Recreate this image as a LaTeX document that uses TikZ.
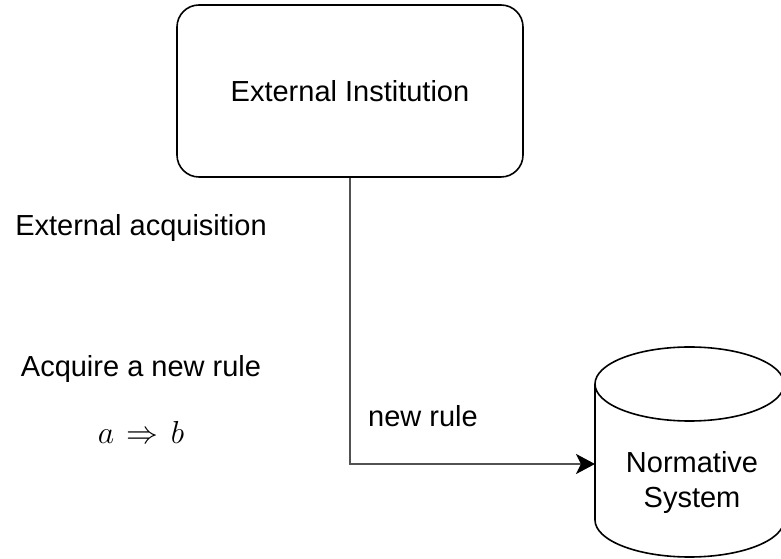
\documentclass[tikz,border=0pt]{standalone}
\usepackage{fontspec}
\setmainfont{Liberation Sans}
\usetikzlibrary{arrows.meta}

\tikzset{
  lbl/.style={font=\fontsize{29}{35}\selectfont, inner sep=0pt},
  instbox/.style={draw=black, line width=1.6pt, rounded corners=22pt,
    minimum width=346pt, minimum height=172pt, lbl},
  dbshape/.style={draw=black, line width=1.6pt, fill=white},
  flow/.style={draw=black!68, line width=2.6pt,
    -{Stealth[length=19pt, width=20pt, inset=5pt, color=black]}},
}

\begin{document}
\begin{tikzpicture}[x=1pt, y=1pt]
  \useasboundingbox (0,0) rectangle (781,559);
  \clip (0,0) rectangle (781,559);

  % institution box
  \node[instbox] (inst) at (350,468) {};
  \node[lbl, anchor=base] (instlbl) at (350,457) {External Institution};

  % side notes
  \node[lbl, anchor=base] (acq) at (141,323) {External acquisition};
  \node[lbl, anchor=base] (rule) at (141,182) {Acquire a new rule};
  \node[inner sep=0pt, anchor=base, scale=1.28] (formula) at (141,115)
    {\fontsize{24.88}{30}\selectfont $a\mskip2mu\Rightarrow\mskip2mu b$};

  % normative system store (cylinder)
  \path[dbshape] (595,175) -- (595,39)
    arc[start angle=180, end angle=360, x radius=94.5pt, y radius=37pt]
    -- (784,175);
  \path[dbshape] (689.5,175) ellipse[x radius=94.5pt, y radius=37pt];
  \node[lbl, align=center] (ns) at (692,76) {Normative\\System};
  \coordinate (nsin) at (595,95);

  % connector
  \draw[flow] (inst.south) |- (nsin);
  \node[lbl, anchor=base west] (newrule) at (368,132) {new rule};
\end{tikzpicture}
\end{document}
